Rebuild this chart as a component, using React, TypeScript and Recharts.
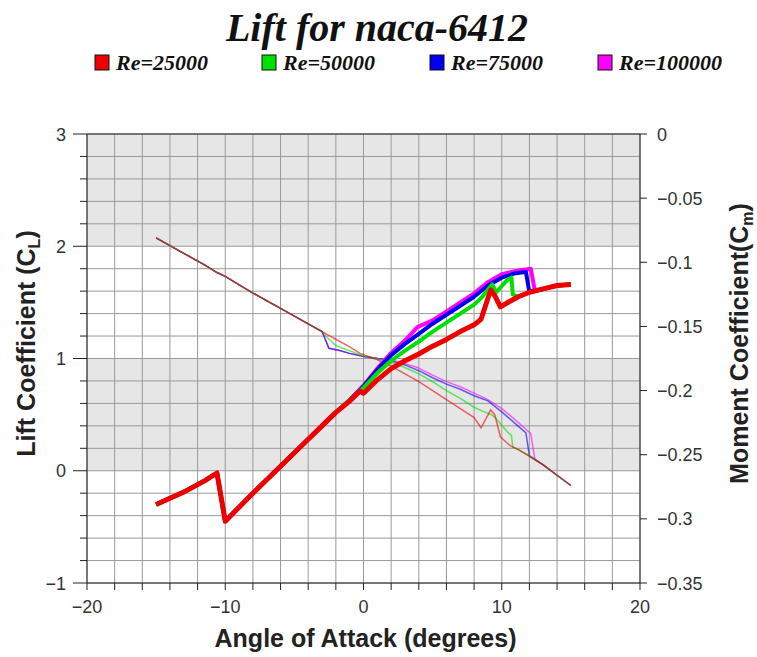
import React from 'react';
import { LineChart, Line, XAxis, YAxis, CartesianGrid, ReferenceLine } from 'recharts';

// angle of attack (deg), lift coefficient, moment coefficient for each Reynolds number
const alpha25 = [-15, -13, -11.5, -10.6, -10, -8, -6, -4, -3, -2, -1, -0.25, 0, 1, 2, 3, 4, 5, 6, 7, 8, 8.5, 9.2, 9.5, 9.9, 10.6, 11.2, 12, 13, 14, 15];
const cl25 = [-0.3, -0.19, -0.09, -0.02, -0.45, -0.2, 0.04, 0.28, 0.4, 0.52, 0.62, 0.71, 0.69, 0.81, 0.91, 0.98, 1.04, 1.11, 1.17, 1.24, 1.3, 1.35, 1.61, 1.56, 1.46, 1.51, 1.55, 1.59, 1.62, 1.65, 1.66];
const cm25 = [-0.081, -0.093, -0.102, -0.108, -0.111, -0.124, -0.136, -0.148, -0.154, -0.16, -0.166, -0.171, -0.172, -0.176, -0.181, -0.187, -0.193, -0.2, -0.207, -0.214, -0.221, -0.229, -0.215, -0.219, -0.236, -0.243, -0.246, -0.251, -0.258, -0.266, -0.274];

const alpha50 = [-15, -13, -11.5, -10.6, -10, -8, -6, -4, -3, -2.5, -2, -1, 0, 1, 2, 3, 4, 5, 6, 7, 8, 8.6, 9.3, 9.6, 10.4, 10.7, 10.8, 11.2, 12, 13, 14, 15];
const cl50 = [-0.3, -0.19, -0.09, -0.02, -0.45, -0.2, 0.04, 0.28, 0.4, 0.46, 0.52, 0.63, 0.74, 0.87, 0.98, 1.07, 1.15, 1.24, 1.32, 1.4, 1.48, 1.55, 1.66, 1.59, 1.7, 1.72, 1.57, 1.55, 1.59, 1.62, 1.65, 1.66];
const cm50 = [-0.081, -0.093, -0.102, -0.108, -0.111, -0.124, -0.136, -0.148, -0.154, -0.16, -0.165, -0.169, -0.173, -0.175, -0.178, -0.182, -0.187, -0.193, -0.2, -0.206, -0.213, -0.216, -0.219, -0.222, -0.232, -0.235, -0.244, -0.246, -0.251, -0.258, -0.266, -0.274];

const alpha75 = [-15, -13, -11.5, -10.6, -10, -8, -6, -4, -3, -2.5, -1.8, -1, 0, 1, 2, 3, 4, 5, 6, 7, 8, 9, 10, 11, 11.75, 12, 13, 14, 15];
const cl75 = [-0.3, -0.19, -0.09, -0.02, -0.45, -0.2, 0.04, 0.28, 0.4, 0.46, 0.54, 0.63, 0.75, 0.9, 1.03, 1.13, 1.22, 1.31, 1.39, 1.47, 1.55, 1.65, 1.72, 1.76, 1.77, 1.59, 1.62, 1.65, 1.66];
const cm75 = [-0.081, -0.093, -0.102, -0.108, -0.111, -0.124, -0.136, -0.148, -0.154, -0.167, -0.1686, -0.171, -0.1735, -0.175, -0.177, -0.18, -0.1845, -0.19, -0.195, -0.199, -0.204, -0.208, -0.2166, -0.226, -0.233, -0.251, -0.258, -0.266, -0.274];

const alpha100 = [-15, -13, -11.5, -10.6, -10, -8, -6, -4, -3, -2.5, -1.8, -1, 0, 1, 2, 3, 3.9, 5, 6, 7, 8, 9, 10, 11, 12.1, 12.4, 13, 14, 15];
const cl100 = [-0.3, -0.19, -0.09, -0.02, -0.45, -0.2, 0.04, 0.28, 0.4, 0.46, 0.54, 0.63, 0.76, 0.91, 1.05, 1.16, 1.28, 1.34, 1.42, 1.5, 1.58, 1.68, 1.75, 1.78, 1.8, 1.6, 1.62, 1.65, 1.66];
const cm100 = [-0.081, -0.093, -0.102, -0.108, -0.111, -0.124, -0.136, -0.148, -0.154, -0.167, -0.1686, -0.171, -0.1735, -0.175, -0.176, -0.179, -0.182, -0.188, -0.193, -0.197, -0.202, -0.207, -0.214, -0.223, -0.2335, -0.2538, -0.258, -0.266, -0.274];

const reLabels = ['Re=25000', 'Re=50000', 'Re=75000', 'Re=100000'];
const reColors = ['#ee0000', '#00e000', '#0000ee', '#ff00ff'];

const angleTicks = [-20, -18, -16, -14, -12, -10, -8, -6, -4, -2, 0, 2, 4, 6, 8, 10, 12, 14, 16, 18, 20];
const liftTicks = [-1, -0.8, -0.6, -0.4, -0.2, 0, 0.2, 0.4, 0.6, 0.8, 1, 1.2, 1.4, 1.6, 1.8, 2, 2.2, 2.4, 2.6, 2.8, 3];
const momentTicks = [-0.35, -0.3, -0.25, -0.2, -0.15, -0.1, -0.05, 0];

const toRows = (alpha: number[], cl: number[], cm: number[]) =>
  alpha.map((a, i) => ({ alpha: a, cl: cl[i], cm: cm[i] }));

const series = [
  { name: reLabels[0], color: reColors[0], rows: toRows(alpha25, cl25, cm25) },
  { name: reLabels[1], color: reColors[1], rows: toRows(alpha50, cl50, cm50) },
  { name: reLabels[2], color: reColors[2], rows: toRows(alpha75, cl75, cm75) },
  { name: reLabels[3], color: reColors[3], rows: toRows(alpha100, cl100, cm100) },
];
// drawn from the highest Re down so Re=25000 ends on top
const drawOrder = [...series].reverse();

const sans = "'Liberation Sans', Arial, Helvetica, sans-serif";
const serif = "'Liberation Serif', 'Times New Roman', serif";
const GRAY = '#e6e6e6';
const stripeFill = [GRAY, GRAY, GRAY, GRAY, GRAY, '#fff', '#fff', '#fff', '#fff', '#fff'];

const fmt = (v: number) => (v < 0 ? '\u2212' + String(-v) : String(v));

const AngleTick = ({ x, y, payload }: any) => {
  const v = payload.value;
  return (
    <g>
      <line x1={x} y1={y} x2={x} y2={y + 7} stroke="#222" />
      {v % 10 === 0 && (
        <text x={x} y={y + 30} textAnchor="middle" fontFamily={sans} fontSize={18} fill="#333">
          {fmt(v)}
        </text>
      )}
    </g>
  );
};

const LiftTick = ({ x, y, payload }: any) => {
  const v = payload.value;
  const major = Math.abs(v - Math.round(v)) < 1e-9;
  return (
    <g>
      <line x1={x - (major ? 14 : 7)} y1={y} x2={x} y2={y} stroke="#222" />
      {major && (
        <text x={x - 21} y={y + 6.5} textAnchor="end" fontFamily={sans} fontSize={18} fill="#333">
          {fmt(v)}
        </text>
      )}
    </g>
  );
};

const MomentTick = ({ x, y, payload }: any) => (
  <g>
    <line x1={x} y1={y} x2={x + 7} y2={y} stroke="#222" />
    <text x={x + 17} y={y + 6.5} textAnchor="start" fontFamily={sans} fontSize={18} fill="#333">
      {fmt(payload.value)}
    </text>
  </g>
);

const LiftTitle = ({ viewBox }: any) => {
  const cx = viewBox.x + viewBox.width - 52;
  const cy = viewBox.y + viewBox.height / 2 - 15;
  return (
    <text transform={`translate(${cx},${cy}) rotate(-90)`} textAnchor="middle" fontFamily={sans} fontWeight="bold" fontSize={25} fill="#222">
      Lift Coefficient (C<tspan fontSize={16} dy={5}>L</tspan><tspan dy={-5}>)</tspan>
    </text>
  );
};

const MomentTitle = ({ viewBox }: any) => {
  const cx = viewBox.x + 108;
  const cy = viewBox.y + viewBox.height / 2 - 15;
  return (
    <text transform={`translate(${cx},${cy}) rotate(-90)`} textAnchor="middle" fontFamily={sans} fontWeight="bold" fontSize={25} fill="#222">
      Moment Coefficient(C<tspan fontSize={16} dy={5}>m</tspan><tspan dy={-5}>)</tspan>
    </text>
  );
};

const AngleTitle = ({ viewBox }: any) => (
  <text x={viewBox.x + viewBox.width / 2 + 2} y={viewBox.y + 64} textAnchor="middle" fontFamily={sans} fontWeight="bold" fontSize={25} fill="#222">
    Angle of Attack (degrees)
  </text>
);

const legendX = [95, 262, 430, 598];

export default function App() {
  return (
    <div style={{ position: 'absolute', left: 0, top: 0, width: 757, height: 657, background: '#fff' }}>
      <svg width={757} height={100} style={{ position: 'absolute', left: 0, top: 0 }}>
        <text x={377} y={41} textAnchor="middle" fontFamily={serif} fontStyle="italic" fontWeight="bold" fontSize={40} fill="#111">
          Lift for naca-6412
        </text>
        {series.map((s, i) => (
          <g key={s.name}>
            <rect x={legendX[i]} y={55} width={14} height={15} fill={s.color} stroke="#111" strokeWidth={1} />
            <text x={legendX[i] + 21} y={70} fontFamily={serif} fontStyle="italic" fontWeight="bold" fontSize={22} fill="#111">
              {s.name}
            </text>
          </g>
        ))}
      </svg>
      <LineChart width={757} height={657} margin={{ top: 134, right: 27, bottom: 14, left: 17 }}>
        <CartesianGrid yAxisId="cl" stroke="#9a9a9a" horizontalFill={stripeFill} fillOpacity={1} />
        <XAxis
          type="number"
          dataKey="alpha"
          domain={[-20, 20]}
          ticks={angleTicks}
          interval={0}
          allowDataOverflow
          height={60}
          tickSize={0}
          tickMargin={0}
          tickLine={false}
          axisLine={{ stroke: '#222' }}
          tick={<AngleTick />}
          label={<AngleTitle />}
        />
        <YAxis
          yAxisId="cl"
          type="number"
          domain={[-1, 3]}
          ticks={liftTicks}
          interval={0}
          allowDataOverflow
          width={70}
          tickSize={0}
          tickMargin={0}
          tickLine={false}
          axisLine={{ stroke: '#222' }}
          tick={<LiftTick />}
          label={<LiftTitle />}
        />
        <YAxis
          yAxisId="cm"
          orientation="right"
          type="number"
          domain={[-0.35, 0]}
          ticks={momentTicks}
          interval={0}
          allowDataOverflow
          width={90}
          tickSize={0}
          tickMargin={0}
          tickLine={false}
          axisLine={{ stroke: '#222' }}
          tick={<MomentTick />}
          label={<MomentTitle />}
        />
        <ReferenceLine yAxisId="cl" y={3} stroke="#222" />
        {drawOrder.map((s) => (
          <Line
            key={'cm' + s.name}
            data={s.rows}
            dataKey="cm"
            yAxisId="cm"
            type="linear"
            stroke={s.color}
            strokeWidth={1.5}
            strokeOpacity={0.6}
            dot={false}
            activeDot={false}
            isAnimationActive={false}
          />
        ))}
        {drawOrder.map((s, i) => (
          <Line
            key={'cl' + s.name}
            data={s.rows}
            dataKey="cl"
            yAxisId="cl"
            type="linear"
            stroke={s.color}
            strokeWidth={i === drawOrder.length - 1 ? 5 : 4}
            strokeLinejoin="round"
            dot={false}
            activeDot={false}
            isAnimationActive={false}
          />
        ))}
      </LineChart>
    </div>
  );
}
